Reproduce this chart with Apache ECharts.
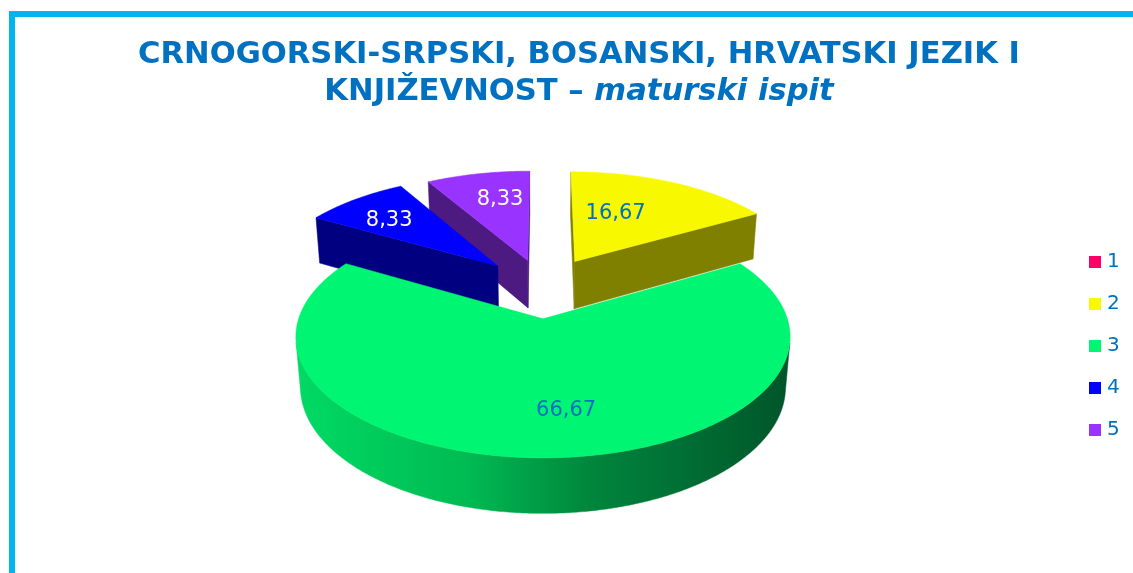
<!DOCTYPE html>
<html><head><meta charset="utf-8">
<script src="https://cdn.jsdelivr.net/npm/echarts@6/dist/echarts.min.js"></script>
<style>html,body{margin:0;padding:0;background:#fff}#c{width:1133px;height:573px}</style>
</head><body><div id="c"></div>
<script>
// ---- data ----
const categories = ['1', '2', '3', '4', '5'];
const values = [0, 16.67, 66.67, 8.33, 8.33];
const titleLine1 = 'CRNOGORSKI-SRPSKI, BOSANSKI, HRVATSKI JEZIK I';
const titleLine2a = 'KNJIŽEVNOST – ';
const titleLine2b = 'maturski ispit';

// ---- style ----
const topColors = ['#FF0066', '#F8F800', '#00F572', '#0000FF', '#9933FF'];
const wallColors = ['#800033', '#808000', '#009040', '#000080', '#4C1A80'];
const labelColors = ['#0070C0', '#0070C0', '#0070C0', '#FFFFFF', '#FFFFFF'];
const explode = [0.28, 0.28, 0.28, 0.28, 0.26];
const labelRadius = [0.68, 0.54, 0.7, 0.7, 0.67];
const labelAngleShift = [0, -8, -7, -3, 3];
const greenWall = {type: 'linear', x: 0, y: 0, x2: 1, y2: 0, colorStops: [
  {offset: 0, color: '#00DA64'}, {offset: 0.35, color: '#00BA52'},
  {offset: 0.6, color: '#00853C'}, {offset: 1, color: '#00552A'}]};

// ---- 3D projection (perspective) ----
const F = 1457, DIST = 6.21, TILT = Math.asin(0.465), CX = 543, CY = 287, DEPTH = 0.238;
const S = Math.sin(TILT), C = Math.cos(TILT);
function proj(X, Y, Z) {
  const yc = Y * S + Z * C, zc = DIST + Y * C - Z * S;
  return [CX + F * X / zc, CY - F * yc / zc];
}
const total = values.reduce((a, b) => a + b, 0);
const slices = [];
let cum = 0;
values.forEach((v, i) => {
  const a0 = cum / total * 2 * Math.PI; cum += v;
  const a1 = cum / total * 2 * Math.PI;
  const mid = (a0 + a1) / 2, e = explode[i];
  slices.push({a0, a1, mid, ox: e * Math.sin(mid), oy: e * Math.cos(mid)});
});
// depth order (far first)
const depthOf = i => { const s = slices[i]; return DIST + (s.oy + 0.6 * Math.cos(s.mid)) * C; };
const order = categories.map((_, i) => i).sort((a, b) => depthOf(b) - depthOf(a));
const rank = []; order.forEach((idx, r) => rank[idx] = r);

function fmt(v) { return v.toFixed(2).replace('.', ','); }
function poly(points, fill) { return {type: 'polygon', shape: {points}, style: {fill, stroke: fill, lineWidth: 0.5}}; }

function buildSlice(i) {
  const v = values[i];
  if (!(v > 0)) return {type: 'group', children: []};
  const {a0, a1, mid, ox, oy} = slices[i];
  const rim = (t, z) => proj(ox + Math.sin(t), oy + Math.cos(t), z);
  const ctr = z => proj(ox, oy, z);
  const camY = -DIST * C;
  const children = [];
  const wall = wallColors[i];
  const n0 = [-Math.cos(a0), Math.sin(a0)];
  if ((0 - ox) * n0[0] + (camY - oy) * n0[1] > 0)
    children.push(poly([ctr(0), rim(a0, 0), rim(a0, -DEPTH), ctr(-DEPTH)], wall));
  const n1 = [Math.cos(a1), -Math.sin(a1)];
  if ((0 - ox) * n1[0] + (camY - oy) * n1[1] > 0)
    children.push(poly([ctr(0), rim(a1, 0), rim(a1, -DEPTH), ctr(-DEPTH)], wall));
  const steps = Math.max(2, Math.ceil((a1 - a0) / (Math.PI / 360)));
  const runs = []; let run = [];
  for (let k = 0; k <= steps; k++) {
    const t = a0 + (a1 - a0) * k / steps;
    const facing = -ox * Math.sin(t) - (DIST * C + oy) * Math.cos(t) - 1 > 0;
    if (facing) run.push(t); else if (run.length) { runs.push(run); run = []; }
  }
  if (run.length) runs.push(run);
  runs.forEach(r => {
    if (r.length < 2) return;
    const pts = r.map(t => rim(t, 0)).concat(r.slice().reverse().map(t => rim(t, -DEPTH)));
    children.push(poly(pts, i === 2 ? greenWall : wall));
  });
  const topPts = [ctr(0)];
  for (let k = 0; k <= steps; k++) topPts.push(rim(a0 + (a1 - a0) * k / steps, 0));
  children.push(poly(topPts, topColors[i]));
  const lr = labelRadius[i], la = mid + labelAngleShift[i] * Math.PI / 180;
  const lp = proj(ox + lr * Math.sin(la), oy + lr * Math.cos(la), 0);
  children.push({type: 'text', x: lp[0], y: lp[1], style: {text: fmt(v), fill: labelColors[i],
    font: '21px "DejaVu Sans"', align: 'center', verticalAlign: 'middle'}});
  return {type: 'group', children};
}

const chart = echarts.init(document.getElementById('c'), null, {renderer: 'canvas'});
const tStyle = {fontFamily: 'DejaVu Sans', fontWeight: 'bold', fontSize: 30.6, color: '#0070C0', lineHeight: 37, align: 'center'};
chart.setOption({
  animation: false,
  backgroundColor: '#ffffff',
  color: topColors,
  title: {
    left: 574, top: 32, textAlign: 'center',
    text: '{b|' + titleLine1 + '}\n{b|' + titleLine2a + '}{i|' + titleLine2b + '}',
    textStyle: {rich: {b: tStyle, i: Object.assign({}, tStyle, {fontStyle: 'italic'})}}
  },
  legend: {
    orient: 'vertical', left: 1084, top: 247, itemWidth: 12, itemHeight: 12, itemGap: 22, icon: 'rect',
    textStyle: {fontFamily: 'DejaVu Sans', fontSize: 20, color: '#0070C0', lineHeight: 20, padding: [0, 0, 0, 1]},
    data: categories
  },
  graphic: [{type: 'rect', silent: true, shape: {x: 12, y: 14, width: 1300, height: 800},
    style: {fill: 'none', stroke: '#00B4F0', lineWidth: 6}}],
  series: categories.map((name, i) => ({
    type: 'custom', name, coordinateSystem: 'none', silent: true,
    z: 2 + rank[i] * 0.1,
    itemStyle: {color: topColors[i]},
    data: [values[i]],
    renderItem: () => buildSlice(i)
  }))
});
</script></body></html>
